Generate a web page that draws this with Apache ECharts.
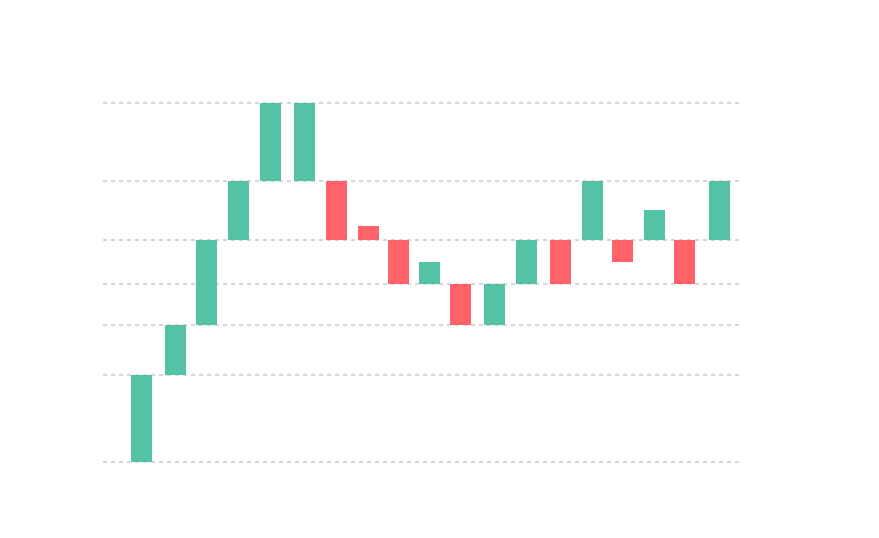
<!DOCTYPE html>
<html>
<head>
<meta charset="utf-8">
<script src="https://cdn.jsdelivr.net/npm/echarts@6/dist/echarts.min.js"></script>
<style>
html,body{margin:0;padding:0;background:#fff;}
#chart{width:879px;height:538px;}
</style>
</head>
<body>
<div id="chart"></div>
<script>
// Positions along the x axis (one per bar)
const xs = [1.2, 2.27, 3.23, 4.23, 5.23, 6.3, 7.3, 8.3, 9.23, 10.2, 11.17, 12.23, 13.23, 14.3, 15.3, 16.23, 17.23, 18.17, 19.27];
// Start and end level of each bar
const opens  = [0, 24.2, 38.2, 61.8, 78.3, 78.3, 78.3, 65.7, 61.8, 49.6, 49.6, 38.2, 49.6, 61.8, 61.8, 61.8, 61.8, 61.8, 61.8];
const closes = [24.2, 38.2, 61.8, 78.3, 100, 100, 61.8, 61.8, 49.6, 55.7, 38.2, 49.6, 61.8, 49.6, 78.3, 55.7, 70.2, 49.6, 78.3];
// Dashed reference levels
const gridLevels = [0, 24.2, 38.2, 49.6, 61.8, 78.3, 100];

const UP = '#54c3a5', DOWN = '#ff6268';
const BAR_W = 21;

const barData = xs.map((x, i) => [x, opens[i], closes[i]]);

const chart = echarts.init(document.getElementById('chart'));
chart.setOption({
  animation: false,
  grid: { left: 103, right: 136, top: 103, bottom: 76 },
  xAxis: { type: 'value', min: 0, max: 20, show: false },
  yAxis: {
    type: 'value', min: 0, max: 100,
    axisLine: { show: false }, axisTick: { show: false },
    axisLabel: { show: false }, splitLine: { show: false }
  },
  series: [
    {
      type: 'line', data: [], z: 0, silent: true,
      markLine: {
        z: 0,
        symbol: ['none', 'none'], silent: true, animation: false,
        label: { show: false },
        lineStyle: { color: '#d6d6d6', type: [4, 4], width: 2 },
        data: gridLevels.map(v => ({ yAxis: v }))
      }
    },
    {
      type: 'custom', z: 10,
      encode: { x: 0, y: [1, 2] },
      data: barData,
      renderItem: function (params, api) {
        const x = api.value(0), o = api.value(1), c = api.value(2);
        const p1 = api.coord([x, o]);
        const p2 = api.coord([x, c]);
        const top = Math.min(p1[1], p2[1]);
        const h = Math.abs(p1[1] - p2[1]);
        return {
          type: 'rect',
          shape: { x: Math.round(p1[0] - BAR_W / 2), y: Math.round(top), width: BAR_W, height: Math.round(h) },
          style: { fill: c >= o ? UP : DOWN }
        };
      }
    }
  ]
});
</script>
</body>
</html>
